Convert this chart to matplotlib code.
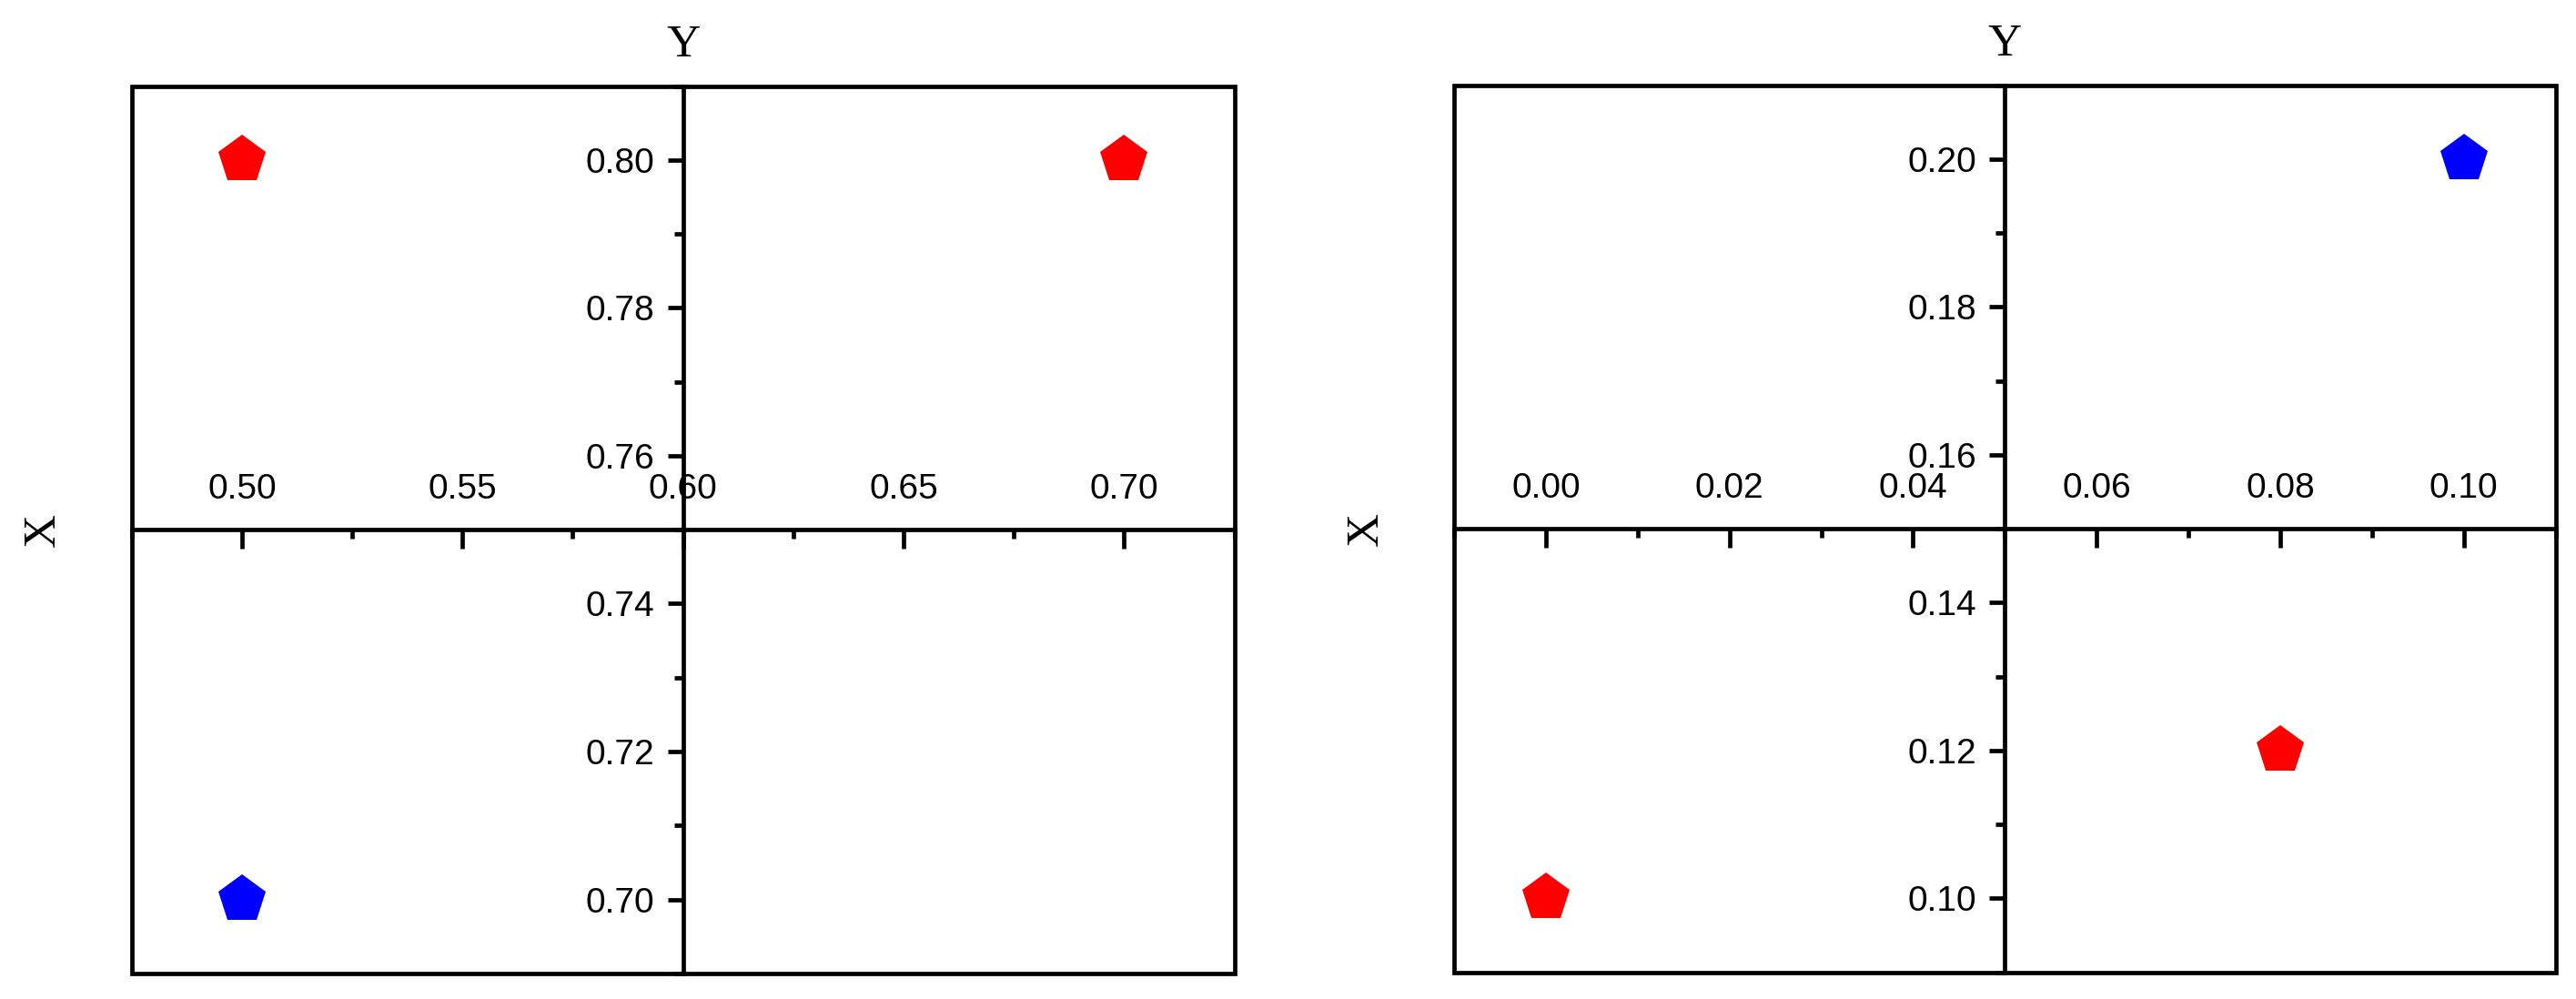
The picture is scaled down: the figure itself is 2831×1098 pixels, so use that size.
import matplotlib
matplotlib.use("Agg")
import matplotlib.pyplot as plt
import matplotlib.transforms as mtransforms
from matplotlib.patches import Rectangle
from matplotlib.ticker import MultipleLocator, FormatStrFormatter

# ---- data ----
left_x = [0.50, 0.70, 0.50]
left_y = [0.80, 0.80, 0.70]
left_colors = ["#FF0000", "#FF0000", "#0000FF"]

right_x = [0.10, 0.08, 0.00]
right_y = [0.20, 0.12, 0.10]
right_colors = ["#0000FF", "#FF0000", "#FF0000"]

left_xlim = (0.475, 0.725)
left_ylim = (0.69, 0.81)
left_cross = (0.60, 0.75)   # (x where Y axis sits, y where X axis sits)
left_xmajor, left_ymajor = 0.05, 0.02

right_xlim = (-0.01, 0.11)
right_ylim = (0.09, 0.21)
right_cross = (0.05, 0.15)
right_xmajor, right_ymajor = 0.02, 0.02

plt.rcParams['font.family'] = ['Liberation Sans', 'DejaVu Sans']

fig = plt.figure(figsize=(28.31, 10.98), dpi=100)

LW = 3.4


def make_panel(rect, xs, ys, cols, xlim, ylim, cross, xmaj, ymaj):
    ax = fig.add_axes(rect)
    ax.set_xlim(*xlim)
    ax.set_ylim(*ylim)
    for s in ['bottom', 'right']:
        ax.spines[s].set_visible(False)
    ax.spines['left'].set_position(('data', cross[0]))
    ax.spines['top'].set_position(('data', cross[1]))
    ax.spines['left'].set_linewidth(LW)
    ax.spines['top'].set_linewidth(LW)
    ax.xaxis.set_ticks_position('top')
    ax.yaxis.set_ticks_position('left')
    ax.xaxis.set_major_locator(MultipleLocator(xmaj))
    ax.xaxis.set_minor_locator(MultipleLocator(xmaj / 2))
    ax.yaxis.set_major_locator(MultipleLocator(ymaj))
    ax.yaxis.set_minor_locator(MultipleLocator(ymaj / 2))
    ax.xaxis.set_major_formatter(FormatStrFormatter('%.2f'))
    ax.yaxis.set_major_formatter(FormatStrFormatter('%.2f'))
    ax.tick_params(axis='x', which='major', direction='in', length=15, width=LW,
                   pad=19, labelsize=28)
    ax.tick_params(axis='x', which='minor', direction='in', length=7.5, width=LW)
    ax.tick_params(axis='y', which='major', direction='out', length=12.5, width=LW,
                   pad=10, labelsize=28)
    ax.tick_params(axis='y', which='minor', direction='out', length=7.5, width=LW)
    # frame
    ax.add_patch(Rectangle((0, 0), 1, 1, transform=ax.transAxes, fill=False,
                           edgecolor='black', linewidth=LW, clip_on=False,
                           zorder=5))
    for x, y, c in zip(xs, ys, cols):
        ax.plot([x], [y], marker='p', markersize=40, color=c,
                markeredgewidth=0, linestyle='none', clip_on=False, zorder=6)
    # axis titles
    tY = mtransforms.blended_transform_factory(ax.transData, ax.transAxes)
    ax.text(cross[0], 1.046, 'Y', transform=tY, ha='center', va='center',
            fontsize=37, family=['Liberation Serif', 'DejaVu Serif'])
    tX = mtransforms.blended_transform_factory(ax.transAxes, ax.transData)
    ax.text(-0.080, cross[1], 'X', transform=tX, ha='center', va='center',
            rotation=90, fontsize=37, family=['Liberation Serif', 'DejaVu Serif'])
    return ax


make_panel([0.0511, 0.0257, 0.4281, 0.8882], left_x, left_y, left_colors,
           left_xlim, left_ylim, left_cross, left_xmajor, left_ymajor)
make_panel([0.5645, 0.0268, 0.4276, 0.8879], right_x, right_y, right_colors,
           right_xlim, right_ylim, right_cross, right_xmajor, right_ymajor)

fig.savefig('out.png', dpi=100, facecolor='white')
